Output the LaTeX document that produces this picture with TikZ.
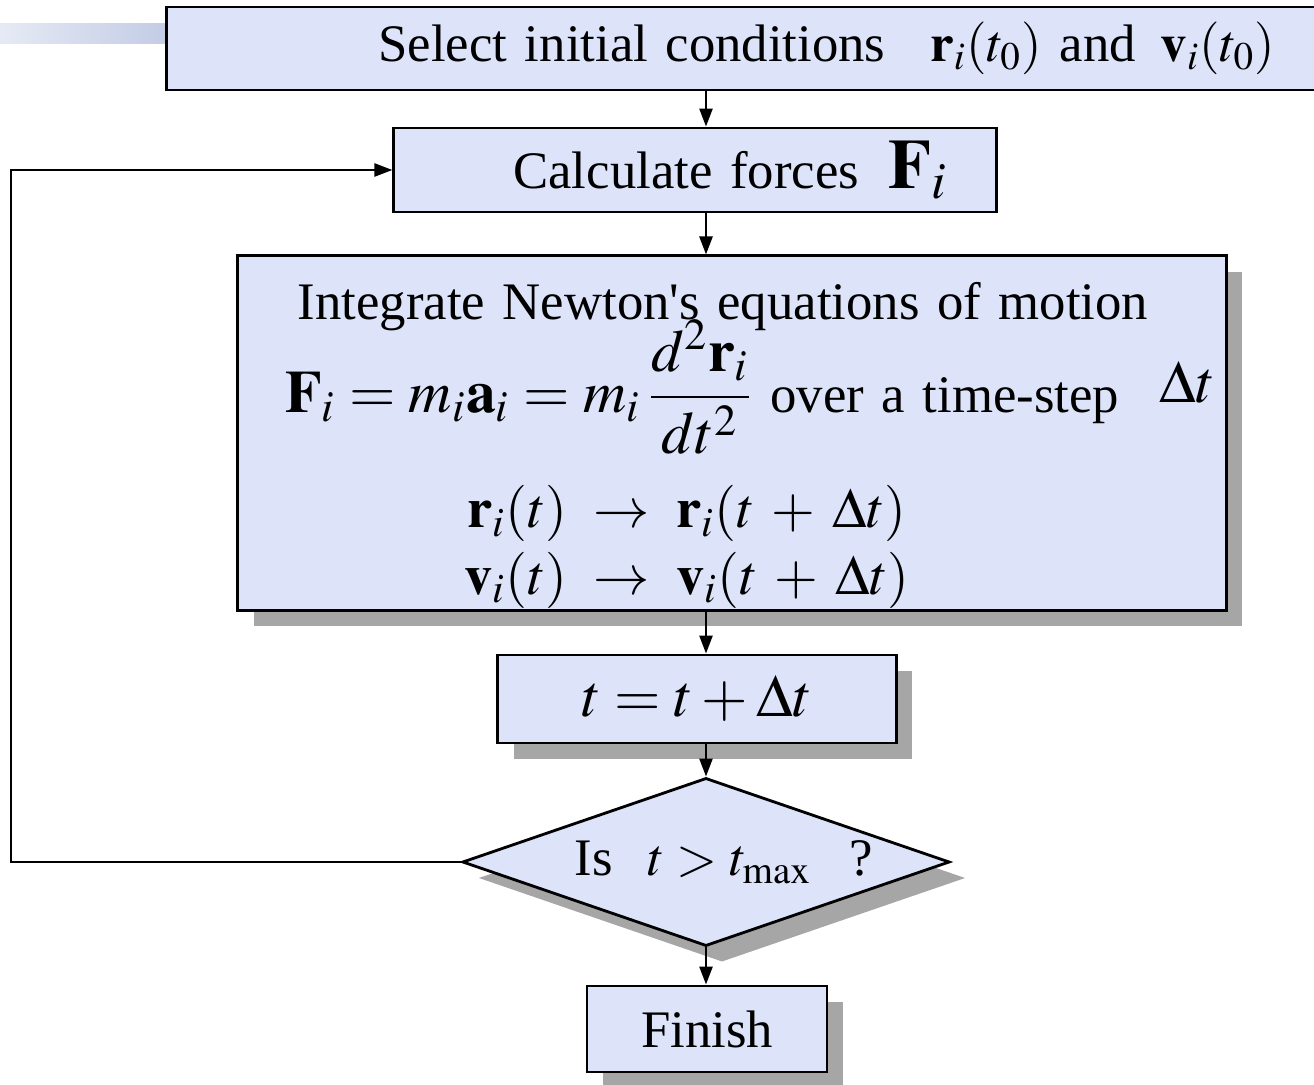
\documentclass[tikz,border=0pt]{standalone}
\usepackage{amsmath}
\usepackage{mathptmx}
\usepackage{fontspec}
\setmainfont{Liberation Serif}
\usepackage{xcolor}
\usepackage{tikz}
\usetikzlibrary{positioning, arrows.meta, shapes.geometric, shadows, calc}
\definecolor{boxfill}{HTML}{DDE4FA}
\definecolor{shadowgrey}{HTML}{A6A6A6}
\definecolor{barlight}{HTML}{E6EAF5}
\definecolor{bardark}{HTML}{C3CCE5}
\tikzset{
  stepbox/.style={draw=black, line width=0.8pt, fill=boxfill, align=center, font=\fontsize{15}{18}\selectfont, inner sep=0pt},
  boxshadow/.style={general shadow={fill=shadowgrey, shadow xshift=1.6mm, shadow yshift=-1.6mm}},
  decision/.style={diamond, draw=black, line width=0.8pt, fill=boxfill, font=\fontsize{15}{18}\selectfont, inner sep=0pt, aspect=2.9},
  arrow/.style={-{Triangle[length=1.8mm, width=1.3mm]}, line width=0.7pt, draw=black},
}

\begin{document}
\begin{tikzpicture}[x=0.01cm, y=-0.01cm]
  \useasboundingbox (0,0) rectangle (1314,1085);
  \shade[left color=barlight, right color=bardark] (0,24) rectangle (167,44);

  \node[stepbox, minimum height=8.3mm, inner xsep=4.3mm, text width=106.5mm, align=right] (init) at (742.5,48.5)
    {Select initial conditions\hspace{0.45cm}$\mathbf{r}_i(t_0)$ and\hspace{0.25cm}$\mathbf{v}_i(t_0)$};
  \node[stepbox, minimum height=8.4mm, inner xsep=4.8mm, text width=50.6mm, align=right] (calc) at (695,170)
    {Calculate forces\hspace{0.3cm}{\fontsize{20}{20}\selectfont$\mathbf{F}_i$}};
  \node[stepbox, boxshadow, minimum height=35.4mm, inner xsep=1mm, text width=96.8mm] (integ) at (732,433)
    {\rule{0pt}{0.62cm}\hspace*{-0.18cm}Integrate Newton\textquotesingle s equations of motion\\[-4pt]
     \hspace*{0.36cm}{\fontsize{17}{20}\selectfont$\mathbf{F}_i=m_i\mathbf{a}_i=m_i\,\dfrac{d^2\mathbf{r}_i}{dt^2}$} over a time-step\hspace{0.4cm}\raisebox{0.1cm}{\fontsize{17}{20}\selectfont$\Delta t$}\\[8pt]
     \hspace*{-0.9cm}{\fontsize{16}{20}\selectfont$\mathbf{r}_i(t)\rightarrow\mathbf{r}_i(t+\Delta t)$}\\[1pt]
     \hspace*{-0.9cm}{\fontsize{16}{20}\selectfont$\mathbf{v}_i(t)\rightarrow\mathbf{v}_i(t+\Delta t)$}};
  \node[stepbox, boxshadow, minimum width=39.8mm, minimum height=8.8mm] (tstep) at (697,699)
    {{\fontsize{17}{20}\selectfont$t=t+\Delta t$}};
  \node[decision, boxshadow, minimum width=48.7mm, minimum height=16.8mm] (check) at (706,862)
    {\hspace*{0.36cm}\raisebox{-0.1cm}{Is\hspace{0.35cm}$t>t_{\max}$\hspace{0.38cm}?}};
  \node[stepbox, boxshadow, minimum width=24mm, minimum height=8.6mm] (finish) at (707,1029)
    {Finish};

  \draw[arrow] (init.south -| check) -- (calc.north -| check);
  \draw[arrow] (calc.south -| check) -- (integ.north -| check);
  \draw[arrow] (integ.south -| check) -- (tstep.north -| check);
  \draw[arrow] (tstep.south -| check) -- (check.north);
  \draw[arrow] (check.south) -- (finish.north -| check);
  \draw[arrow] (check.west) -- ++(-450,0) |- (calc.west);
\end{tikzpicture}
\end{document}
